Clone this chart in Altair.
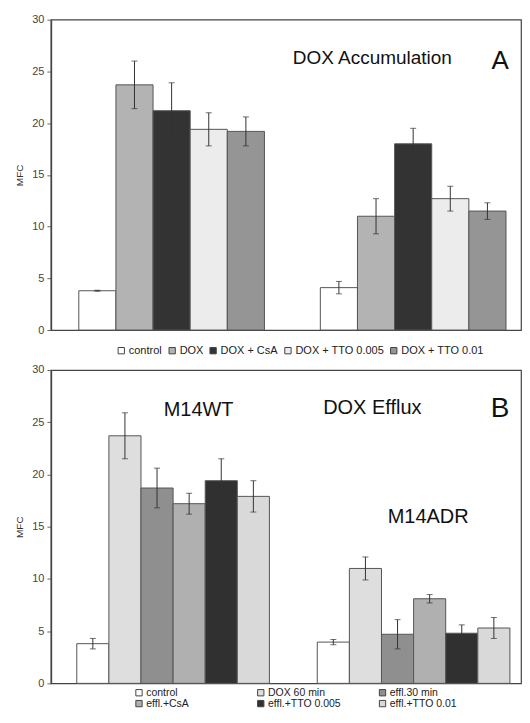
import altair as alt
import pandas as pd

groups = ["M14WT", "M14ADR"]

a_treat = ["control", "DOX", "DOX + CsA", "DOX + TTO 0.005", "DOX + TTO 0.01"]
a_wt = [3.8, 23.7, 21.2, 19.4, 19.2]
a_wt_err = [0.05, 2.3, 2.7, 1.6, 1.4]
a_adr = [4.1, 11.0, 18.0, 12.7, 11.5]
a_adr_err = [0.6, 1.7, 1.5, 1.2, 0.8]
a_colors = ["#ffffff", "#b3b3b3", "#333333", "#ececec", "#959595"]

b_treat = ["control", "DOX 60 min", "effl.30 min", "effl.+CsA", "effl.+TTO 0.005", "effl.+TTO 0.01"]
b_wt = [3.8, 23.7, 18.7, 17.2, 19.4, 17.9]
b_wt_err = [0.5, 2.2, 1.9, 1.0, 2.1, 1.5]
b_adr = [3.95, 11.0, 4.7, 8.1, 4.8, 5.3]
b_adr_err = [0.25, 1.1, 1.4, 0.4, 0.8, 1.0]
b_colors = ["#ffffff", "#dedede", "#8f8f8f", "#b0b0b0", "#303030", "#d9d9d9"]

y_ticks = [0, 5, 10, 15, 20, 25, 30]

FONT = "Liberation Sans"
W = 471


def make_df(treat, wt, wt_err, adr, adr_err):
    rows = []
    for g, vals, errs in [(groups[0], wt, wt_err), (groups[1], adr, adr_err)]:
        for t, v, e in zip(treat, vals, errs):
            rows.append({"group": g, "treat": t, "mfc": v, "lo": v - e, "hi": v + e})
    return pd.DataFrame(rows)


def panel(df, treat, colors, pad_inner, pad_outer, align, legend, height, labels):
    x = alt.X("group:N", sort=groups,
              scale=alt.Scale(paddingInner=pad_inner, paddingOuter=pad_outer, align=align),
              axis=alt.Axis(labels=False, ticks=False, title=None, domain=False))
    xo = alt.XOffset("treat:N", sort=treat, scale=alt.Scale(paddingInner=0, paddingOuter=0))
    y = alt.Y("mfc:Q", scale=alt.Scale(domain=[0, 30], nice=False),
              axis=alt.Axis(values=y_ticks, title="MFC", grid=False, tickSize=4,
                            tickColor="#666", domainColor="#444", domainWidth=1.5,
                            labelColor="#444", labelFontSize=11, labelPadding=3,
                            titleFontSize=10, titleFontWeight="normal", titleColor="#333",
                            titlePadding=7, labelFont=FONT, titleFont=FONT))
    base = alt.Chart(df)
    bars = base.mark_bar(stroke="#555555", strokeWidth=1).encode(
        x=x, xOffset=xo, y=y,
        color=alt.Color("treat:N", sort=treat,
                        scale=alt.Scale(domain=treat, range=colors),
                        legend=legend),
    )
    err = base.mark_rule(color="#333333", strokeWidth=1).encode(
        x=x, xOffset=xo, y="lo:Q", y2="hi:Q")
    cap_hi = base.mark_tick(color="#333333", size=6, thickness=1, orient="horizontal").encode(
        x=x, xOffset=xo, y="hi:Q")
    cap_lo = base.mark_tick(color="#333333", size=6, thickness=1, orient="horizontal").encode(
        x=x, xOffset=xo, y="lo:Q")
    layers = [bars, err, cap_hi, cap_lo]
    for txt, px, py, fs in labels:
        layers.append(
            alt.Chart(pd.DataFrame({"t": [txt]})).mark_text(
                text=txt, font=FONT, fontSize=fs, color="#111111",
                align="center", baseline="alphabetic"
            ).encode(x=alt.value(px), y=alt.value(py))
        )
    return alt.layer(*layers).properties(
        width=W, height=height,
        view=alt.ViewBackground(stroke="#444444", strokeWidth=1.2),
    )


df_a = make_df(a_treat, a_wt, a_wt_err, a_adr, a_adr_err)
df_b = make_df(b_treat, b_wt, b_wt_err, b_adr, b_adr_err)

H_A = 311
H_B = 314

legend_a = alt.Legend(title=None, orient="none", legendX=65, legendY=H_A + 15,
                      direction="horizontal", symbolType="square", symbolSize=40,
                      symbolStrokeColor="#444", symbolStrokeWidth=1,
                      labelFontSize=11, labelFont=FONT, labelColor="#222",
                      columnPadding=4, labelOffset=2)
legend_b = alt.Legend(title=None, orient="none", legendX=83, legendY=H_B + 4,
                      direction="horizontal", columns=3, gridAlign="all",
                      symbolType="square", symbolSize=40,
                      symbolStrokeColor="#444", symbolStrokeWidth=1,
                      labelFontSize=10.5, labelFont=FONT, labelColor="#222",
                      columnPadding=36, rowPadding=0, labelOffset=2)

chart_a = panel(df_a, a_treat, a_colors, 0.2314, 0.0888, 0.65, legend_a, H_A,
                [("DOX Accumulation", 322, 44, 19), ("A", 450, 49, 26)])
chart_b = panel(df_b, b_treat, b_colors, 0.199, 0.0768, 0.70, legend_b, H_B,
                [("M14WT", 148, 46, 20), ("DOX Efflux", 322, 44, 20),
                 ("B", 450, 47, 28), ("M14ADR", 378, 153, 20)])

chart = alt.vconcat(chart_a, chart_b, spacing=6).resolve_scale(
    color="independent", x="independent", xOffset="independent"
).configure(
    background="white",
    padding={"left": 6, "top": 4, "right": 0, "bottom": 0},
).configure_view(stroke="#444444", strokeWidth=1.2)

chart.save("out.html", embed_options={"renderer": "svg", "actions": False})
